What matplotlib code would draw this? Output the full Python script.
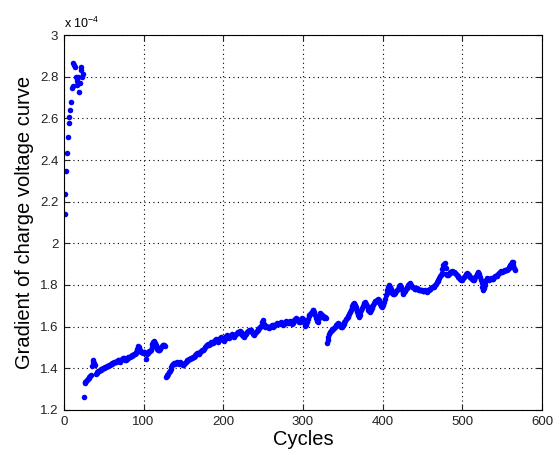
import numpy as np
import matplotlib
matplotlib.use("Agg")
import matplotlib.pyplot as plt

plt.rcParams['font.family'] = ['Liberation Sans', 'DejaVu Sans']
plt.rcParams['mathtext.fontset'] = 'custom'
plt.rcParams['mathtext.rm'] = 'Liberation Sans'
plt.rcParams['mathtext.it'] = 'Liberation Sans'

# Gradient of the charge voltage curve (units of 1e-4), in four runs of cycles
start_a = 1
grad_a = [2.14, 2.235, 2.345, 2.435, 2.51, 2.58, 2.605, 2.64, 2.68, 2.745,
          2.755, 2.865, 2.855, 2.845, 2.80, 2.76, 2.78, 2.80, 2.725, 2.77,
          2.845, 2.83, 2.80, 2.815]

start_b = 25
grad_b = [1.26, 1.33, 1.335, 1.34, 1.345, 1.35, 1.355, 1.36, 1.365, 1.37,
          1.41, 1.43, 1.44, 1.425, 1.415, 1.375, 1.378, 1.38, 1.385, 1.388,
          1.39, 1.392, 1.395, 1.398, 1.40, 1.40, 1.402, 1.405, 1.408, 1.41,
          1.412, 1.41, 1.415, 1.418, 1.42, 1.422, 1.425, 1.424, 1.428, 1.43,
          1.432, 1.43, 1.435, 1.44, 1.438, 1.432, 1.436, 1.44, 1.445, 1.448,
          1.45, 1.445, 1.44, 1.44, 1.445, 1.45, 1.452, 1.455, 1.456, 1.458,
          1.46, 1.462, 1.465, 1.468, 1.47, 1.472, 1.48, 1.495, 1.505, 1.50,
          1.49, 1.485, 1.48, 1.478, 1.475, 1.478, 1.48, 1.475, 1.443, 1.47,
          1.475, 1.48, 1.482, 1.485, 1.49, 1.50, 1.515, 1.525, 1.533, 1.52,
          1.51, 1.50, 1.495, 1.49, 1.488, 1.49, 1.495, 1.50, 1.505, 1.51,
          1.512, 1.51, 1.505]

start_c = 128
grad_c = [1.36, 1.365, 1.37, 1.375, 1.38, 1.385, 1.395, 1.405, 1.415, 1.42,
          1.425, 1.425, 1.42, 1.425, 1.43, 1.425, 1.42, 1.425, 1.43, 1.425,
          1.42, 1.415, 1.415, 1.42, 1.425, 1.43, 1.435, 1.44, 1.44, 1.445,
          1.445, 1.45, 1.448, 1.45, 1.452, 1.455, 1.46, 1.465, 1.47, 1.472,
          1.475, 1.47, 1.475, 1.48, 1.485, 1.488, 1.49, 1.49, 1.495, 1.50,
          1.505, 1.51, 1.512, 1.515, 1.51, 1.515, 1.52, 1.525, 1.522, 1.52,
          1.525, 1.53, 1.535, 1.54, 1.538, 1.53, 1.525, 1.535, 1.545, 1.55,
          1.545, 1.54, 1.535, 1.53, 1.54, 1.55, 1.555, 1.558, 1.552, 1.545,
          1.55, 1.555, 1.56, 1.565, 1.56, 1.555, 1.55, 1.56, 1.565, 1.57,
          1.575, 1.575, 1.57, 1.578, 1.575, 1.565, 1.56, 1.555, 1.552, 1.56,
          1.565, 1.57, 1.575, 1.58, 1.585, 1.585, 1.58, 1.584, 1.575, 1.565,
          1.56, 1.565, 1.57, 1.575, 1.58, 1.585, 1.59, 1.595, 1.60, 1.605,
          1.61, 1.62, 1.632, 1.615, 1.605, 1.60, 1.605, 1.60, 1.598, 1.595,
          1.60, 1.60, 1.605, 1.61, 1.608, 1.60, 1.605, 1.61, 1.612, 1.615,
          1.618, 1.615, 1.612, 1.616, 1.62, 1.618, 1.612, 1.608, 1.612, 1.616,
          1.62, 1.625, 1.622, 1.618, 1.62, 1.624, 1.626, 1.62, 1.615, 1.618,
          1.624, 1.63, 1.635, 1.64, 1.638, 1.63, 1.625, 1.62, 1.624, 1.63,
          1.635, 1.64, 1.635, 1.62, 1.612, 1.605, 1.61, 1.62, 1.635, 1.65,
          1.656, 1.66, 1.665, 1.67, 1.678, 1.682, 1.67, 1.655, 1.64, 1.63,
          1.625, 1.624, 1.64, 1.655, 1.665, 1.66, 1.655, 1.65, 1.645, 1.64,
          1.645, 1.64]

start_d = 330
grad_d = [1.52, 1.535, 1.55, 1.565, 1.576, 1.58, 1.585, 1.588, 1.59, 1.595,
          1.60, 1.605, 1.608, 1.612, 1.616, 1.615, 1.61, 1.605, 1.60, 1.60,
          1.606, 1.612, 1.62, 1.628, 1.635, 1.64, 1.645, 1.652, 1.66, 1.67,
          1.68, 1.69, 1.70, 1.71, 1.715, 1.705, 1.695, 1.685, 1.67, 1.655,
          1.648, 1.658, 1.67, 1.68, 1.69, 1.70, 1.708, 1.715, 1.72, 1.71,
          1.70, 1.69, 1.682, 1.676, 1.672, 1.68, 1.69, 1.70, 1.705, 1.712,
          1.718, 1.722, 1.725, 1.728, 1.732, 1.73, 1.72, 1.71, 1.70, 1.696,
          1.702, 1.71, 1.72, 1.735, 1.75, 1.762, 1.775, 1.79, 1.80, 1.792,
          1.78, 1.77, 1.762, 1.758, 1.755, 1.76, 1.765, 1.77, 1.775, 1.782,
          1.79, 1.796, 1.80, 1.79, 1.775, 1.762, 1.755, 1.765, 1.772, 1.78,
          1.785, 1.79, 1.798, 1.804, 1.808, 1.802, 1.796, 1.79, 1.79, 1.786,
          1.782, 1.78, 1.782, 1.785, 1.78, 1.776, 1.774, 1.776, 1.778, 1.776,
          1.772, 1.77, 1.772, 1.775, 1.77, 1.768, 1.77, 1.774, 1.778, 1.78,
          1.782, 1.785, 1.788, 1.79, 1.792, 1.795, 1.80, 1.806, 1.812, 1.82,
          1.826, 1.834, 1.842, 1.85, 1.856, 1.875, 1.895, 1.90, 1.904, 1.88,
          1.855, 1.848, 1.85, 1.855, 1.858, 1.862, 1.864, 1.866, 1.864, 1.862,
          1.86, 1.856, 1.852, 1.848, 1.845, 1.84, 1.835, 1.83, 1.826, 1.824,
          1.828, 1.834, 1.84, 1.845, 1.85, 1.854, 1.856, 1.852, 1.846, 1.84,
          1.836, 1.832, 1.828, 1.826, 1.824, 1.83, 1.838, 1.845, 1.852, 1.858,
          1.864, 1.855, 1.84, 1.825, 1.808, 1.79, 1.778, 1.785, 1.80, 1.815,
          1.825, 1.832, 1.83, 1.828, 1.826, 1.83, 1.834, 1.83, 1.828, 1.834,
          1.84, 1.845, 1.842, 1.845, 1.85, 1.855, 1.858, 1.86, 1.862, 1.866,
          1.864, 1.865, 1.868, 1.87, 1.872, 1.874, 1.872, 1.876, 1.88, 1.888,
          1.896, 1.902, 1.91, 1.912, 1.895, 1.88, 1.872]

segments = [(start_a, grad_a), (start_b, grad_b), (start_c, grad_c), (start_d, grad_d)]

x_ticks = [0, 100, 200, 300, 400, 500, 600]
y_ticks = [1.2, 1.4, 1.6, 1.8, 2.0, 2.2, 2.4, 2.6, 2.8, 3.0]
y_tick_labels = ['1.2', '1.4', '1.6', '1.8', '2', '2.2', '2.4', '2.6', '2.8', '3']

fig = plt.figure(figsize=(5.6, 4.55), dpi=100)
ax = fig.add_axes([0.114, 0.099, 0.854, 0.824])

for start, vals in segments:
    cyc = start + np.arange(len(vals))
    ax.plot(cyc, vals, linestyle='none', marker='o', markersize=4.0,
            markeredgewidth=0, color='#0000ff')

ax.set_xlim(0, 600)
ax.set_ylim(1.2, 3.0)
ax.set_xticks(x_ticks)
ax.set_yticks(y_ticks)
ax.set_yticklabels(y_tick_labels)
ax.grid(True, color='black', linestyle=(0, (1, 3)), linewidth=0.8)
ax.tick_params(direction='in', length=4, width=0.8, top=True, right=True,
               labelsize=9.5, colors='#222222', pad=4)
for sp in ax.spines.values():
    sp.set_linewidth(0.8)

ax.set_xlabel('Cycles', fontsize=14.5, labelpad=2)
ax.set_ylabel('Gradient of charge voltage curve', fontsize=14.5, labelpad=4)
ax.text(0.0, 1.012, r'x 10$^{-4}$', transform=ax.transAxes,
        fontsize=9, ha='left', va='bottom')

fig.savefig('out.png', dpi=100)
